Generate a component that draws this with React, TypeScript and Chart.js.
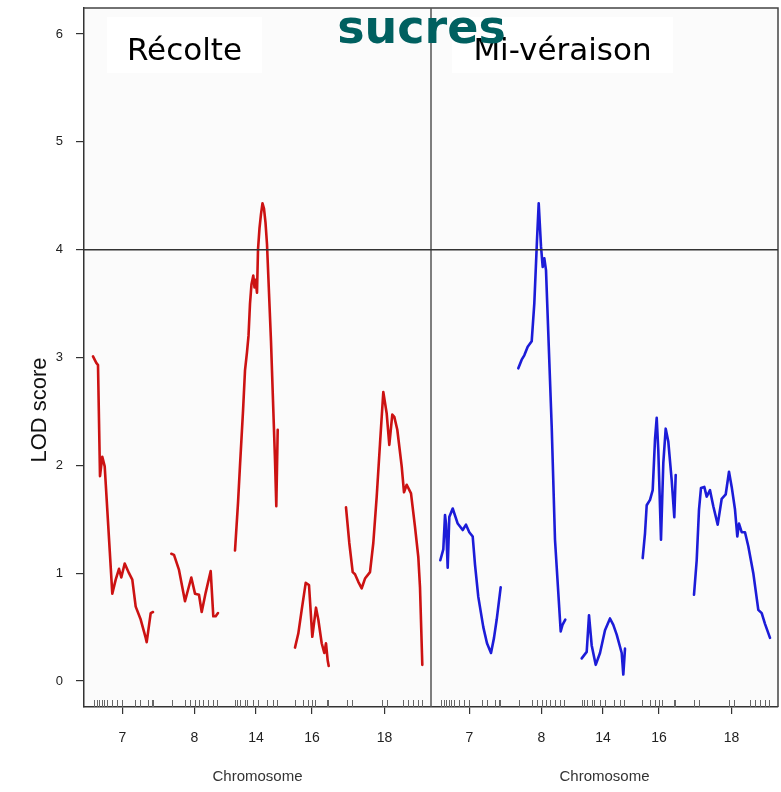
import React, { useEffect, useRef } from "react";
import { Chart, registerables } from "chart.js";

Chart.register(...registerables);

// ---------- data ----------
const TITLE = "sucres";
const PANEL_LABELS = ["Récolte", "Mi-véraison"];
const CHROMOSOMES = ["7", "8", "14", "16", "18"];
const CHROM_START = [8, 87, 150, 211, 261];
const CHROM_LEN = [61, 47, 44, 34, 79];
const PANEL_WIDTH = 347;
const Y_TICKS = [0, 1, 2, 3, 4, 5, 6];
const THRESHOLD = 4;

// Récolte (harvest)
const REC_7_POS = [1, 4.3, 6, 8, 10.3, 12.7, 20.3, 23.7, 27, 29.3, 32.7, 37, 40.3, 43.7, 48.7, 53.7, 54.7, 58.7, 61];
const REC_7_LOD = [3.01, 2.95, 2.93, 1.9, 2.08, 1.99, 0.81, 0.94, 1.04, 0.96, 1.09, 1.0, 0.94, 0.69, 0.57, 0.4, 0.36, 0.63, 0.64];
const REC_8_POS = [0.3, 3, 8, 14, 20.3, 24, 28, 30.7, 34.7, 39.7, 42.3, 44.7, 47];
const REC_8_LOD = [1.18, 1.17, 1.03, 0.74, 0.96, 0.81, 0.8, 0.64, 0.82, 1.02, 0.6, 0.6, 0.63];
const REC_14_POS = [1, 4, 6, 9, 11, 13, 14.5, 16, 17.5, 19.3, 20.5, 21.5, 23, 24, 25.5, 27, 28.5, 30, 31.5, 33, 35, 37, 39, 41, 42.3, 43.7];
const REC_14_LOD = [1.21, 1.65, 2.0, 2.5, 2.88, 3.05, 3.2, 3.5, 3.68, 3.76, 3.65, 3.72, 3.6, 4.0, 4.2, 4.33, 4.43, 4.38, 4.25, 4.05, 3.6, 3.15, 2.6, 2.05, 1.62, 2.33];
const REC_16_POS = [0, 3.3, 6.7, 10.7, 14, 17.3, 21, 23.3, 26.7, 29.3, 31, 32.7, 33.7];
const REC_16_LOD = [0.31, 0.44, 0.66, 0.91, 0.89, 0.41, 0.68, 0.57, 0.35, 0.26, 0.35, 0.19, 0.14];
const REC_18_POS = [1, 4.3, 7.7, 10, 13.3, 16.7, 20, 25, 28.3, 31.7, 35, 38.3, 41.7, 44.3, 47.3, 49.3, 52.3, 56.7, 59, 61.7, 66, 70, 73.3, 75, 77.3];
const REC_18_LOD = [1.61, 1.28, 1.01, 0.99, 0.92, 0.86, 0.95, 1.01, 1.28, 1.71, 2.2, 2.68, 2.48, 2.19, 2.47, 2.45, 2.33, 1.99, 1.75, 1.82, 1.74, 1.43, 1.15, 0.87, 0.15];

// Mi-véraison
const MV_7_POS = [1.3, 4.3, 6, 7, 8.7, 10.3, 13.7, 18.7, 23.7, 27, 30.3, 33.7, 36, 39.3, 44.3, 48, 52, 55, 57.7, 61.7];
const MV_7_LOD = [1.12, 1.22, 1.54, 1.46, 1.05, 1.52, 1.6, 1.46, 1.4, 1.45, 1.38, 1.34, 1.08, 0.78, 0.5, 0.35, 0.26, 0.4, 0.57, 0.87];
const MV_8_POS = [0.3, 3.7, 6.3, 9.7, 13.7, 16.3, 19, 20.7, 23, 24.7, 26.3, 28, 30, 33.7, 37, 42.7, 44.5, 47.3];
const MV_8_LOD = [2.9, 2.98, 3.02, 3.1, 3.15, 3.5, 4.09, 4.43, 4.03, 3.84, 3.92, 3.81, 3.3, 2.36, 1.31, 0.46, 0.52, 0.57];
const MV_14_POS = [0.7, 5.7, 8, 10.7, 14.7, 19, 24, 29, 32.3, 35.7, 40.7, 42.3, 44];
const MV_14_LOD = [0.21, 0.27, 0.61, 0.33, 0.15, 0.26, 0.47, 0.58, 0.52, 0.43, 0.26, 0.06, 0.3];
const MV_16_POS = [0.7, 3, 4.7, 8, 10.7, 13, 14.7, 16.3, 19, 21.3, 23.7, 26.3, 29.7, 32.3, 33.7];
const MV_16_LOD = [1.14, 1.37, 1.63, 1.68, 1.77, 2.24, 2.44, 2.14, 1.31, 2.02, 2.34, 2.22, 1.86, 1.52, 1.91];
const MV_18_POS = [2, 4.7, 7, 9, 12.3, 14.7, 18, 21.3, 25.7, 29.7, 33.7, 37, 39.7, 43, 45.3, 47, 49.7, 53, 56.3, 61.3, 66.3, 69.7, 73, 78];
const MV_18_LOD = [0.8, 1.12, 1.59, 1.79, 1.8, 1.71, 1.77, 1.62, 1.45, 1.69, 1.73, 1.94, 1.8, 1.59, 1.34, 1.46, 1.38, 1.38, 1.25, 1.0, 0.66, 0.63, 0.53, 0.4];

// marker positions (rug)
const MARKERS_7 = [2.3, 4.7, 7.3, 9.7, 12, 14.7, 19.7, 24.7, 29.7, 43, 48, 56.3, 59.7, 61.3];
const MARKERS_8 = [0.7, 14, 19, 24, 28.3, 32.3, 37.3, 42.3, 45.7];
const MARKERS_14 = [1, 3.3, 6, 11, 13.3, 19.3, 24.3, 32.7, 39.3, 42.7];
const MARKERS_16 = [0, 8.3, 13.3, 16.7, 20, 31.7, 33.3];
const MARKERS_18 = [1.7, 6.7, 36.7, 41.7, 58.3, 63.3, 68.3, 73.3, 76.7];

const REC_SERIES: [number[], number[]][] = [
  [REC_7_POS, REC_7_LOD],
  [REC_8_POS, REC_8_LOD],
  [REC_14_POS, REC_14_LOD],
  [REC_16_POS, REC_16_LOD],
  [REC_18_POS, REC_18_LOD],
];
const MV_SERIES: [number[], number[]][] = [
  [MV_7_POS, MV_7_LOD],
  [MV_8_POS, MV_8_LOD],
  [MV_14_POS, MV_14_LOD],
  [MV_16_POS, MV_16_LOD],
  [MV_18_POS, MV_18_LOD],
];
const MARKERS = [MARKERS_7, MARKERS_8, MARKERS_14, MARKERS_16, MARKERS_18];

function panelPoints(panel: number, series: [number[], number[]][]) {
  const pts: { x: number; y: number | null }[] = [];
  series.forEach(([pos, lod], c) => {
    pos.forEach((p, i) => pts.push({ x: panel * PANEL_WIDTH + CHROM_START[c] + p, y: lod[i] }));
    pts.push({ x: panel * PANEL_WIDTH + CHROM_START[c] + CHROM_LEN[c] + 2, y: null });
  });
  return pts;
}

const CENTERS: number[] = [];
for (let p = 0; p < 2; p++) {
  for (let c = 0; c < CHROMOSOMES.length; c++) {
    CENTERS.push(p * PANEL_WIDTH + CHROM_START[c] + CHROM_LEN[c] / 2);
  }
}

const AXIS_FONT = "'Liberation Sans', Arial, sans-serif";
const LABEL_FONT = "'DejaVu Sans', Verdana, sans-serif";

const decorPlugin = {
  id: "decor",
  beforeDraw(chart: any) {
    const { ctx, chartArea: a } = chart;
    const xs = chart.scales.x;
    ctx.save();
    ctx.fillStyle = "#ffffff";
    ctx.fillRect(0, 0, chart.width, chart.height);
    ctx.fillStyle = "#fbfbfb";
    ctx.fillRect(a.left, a.top, a.right - a.left, a.bottom - a.top);
    // white label boxes
    ctx.fillStyle = "#ffffff";
    const boxes = [
      [23, 178],
      [21, 242],
    ];
    boxes.forEach(([l, r], p) => {
      const px = xs.getPixelForValue(p * PANEL_WIDTH);
      ctx.fillRect(px + l, a.top + 9, r - l, 56);
    });
    ctx.restore();
  },
  afterDraw(chart: any) {
    const { ctx, chartArea: a } = chart;
    const xs = chart.scales.x;
    const ys = chart.scales.y;
    ctx.save();
    // frame
    ctx.strokeStyle = "#444";
    ctx.lineWidth = 1.5;
    ctx.beginPath();
    ctx.moveTo(a.left, a.top);
    ctx.lineTo(a.right, a.top);
    ctx.lineTo(a.right, a.bottom);
    ctx.stroke();
    // divider between panels
    const dx = xs.getPixelForValue(PANEL_WIDTH);
    ctx.strokeStyle = "#555";
    ctx.beginPath();
    ctx.moveTo(dx, a.top);
    ctx.lineTo(dx, a.bottom);
    ctx.stroke();
    // threshold
    const ty = ys.getPixelForValue(THRESHOLD);
    ctx.strokeStyle = "#333";
    ctx.lineWidth = 1.5;
    ctx.beginPath();
    ctx.moveTo(a.left, ty);
    ctx.lineTo(a.right, ty);
    ctx.stroke();
    // rug of markers
    ctx.strokeStyle = "#666";
    ctx.lineWidth = 1;
    for (let p = 0; p < 2; p++) {
      MARKERS.forEach((ms, c) => {
        ms.forEach((m) => {
          const x = Math.round(xs.getPixelForValue(p * PANEL_WIDTH + CHROM_START[c] + m)) + 0.5;
          ctx.beginPath();
          ctx.moveTo(x, a.bottom - 7);
          ctx.lineTo(x, a.bottom);
          ctx.stroke();
        });
      });
    }
    // x titles
    ctx.fillStyle = "#333";
    ctx.font = `15px ${AXIS_FONT}`;
    ctx.textAlign = "center";
    ctx.textBaseline = "middle";
    for (let p = 0; p < 2; p++) {
      const cx = (xs.getPixelForValue(p * PANEL_WIDTH) + xs.getPixelForValue((p + 1) * PANEL_WIDTH)) / 2;
      ctx.fillText("Chromosome", cx, 777);
    }
    // y title
    ctx.save();
    ctx.translate(40, 410);
    ctx.rotate(-Math.PI / 2);
    ctx.font = `22px ${AXIS_FONT}`;
    ctx.fillStyle = "#111";
    ctx.fillText("LOD score", 0, 0);
    ctx.restore();
    // panel labels
    ctx.fillStyle = "#000";
    ctx.font = `31px ${LABEL_FONT}`;
    ctx.textBaseline = "alphabetic";
    const centers = [100.5, 131.5];
    PANEL_LABELS.forEach((lab, p) => {
      const px = xs.getPixelForValue(p * PANEL_WIDTH);
      ctx.fillText(lab, px + centers[p], 60);
    });
    // main title
    ctx.fillStyle = "#006060";
    ctx.font = `bold 46px ${LABEL_FONT}`;
    ctx.fillText(TITLE, 421.5, 43);
    ctx.restore();
  },
};

export default function App() {
  const ref = useRef<HTMLCanvasElement | null>(null);
  useEffect(() => {
    if (!ref.current) return;
    const chart = new Chart(ref.current, {
      type: "line",
      data: {
        datasets: [
          {
            label: PANEL_LABELS[0],
            data: panelPoints(0, REC_SERIES) as any,
            borderColor: "#cc1212",
            borderWidth: 2.6,
            pointRadius: 0,
            tension: 0,
            borderJoinStyle: "round",
            borderCapStyle: "round",
            spanGaps: false,
          },
          {
            label: PANEL_LABELS[1],
            data: panelPoints(1, MV_SERIES) as any,
            borderColor: "#1c1cd8",
            borderWidth: 2.6,
            pointRadius: 0,
            tension: 0,
            borderJoinStyle: "round",
            borderCapStyle: "round",
            spanGaps: false,
          },
        ],
      },
      options: {
        animation: false,
        responsive: false,
        devicePixelRatio: 1,
        layout: { padding: { left: 0, right: 3, top: 8, bottom: 0 } },
        plugins: { legend: { display: false }, tooltip: { enabled: false }, title: { display: false } },
        scales: {
          x: {
            type: "linear",
            min: 0,
            max: 2 * PANEL_WIDTH,
            border: { display: true, color: "#333", width: 1.5 },
            grid: { drawOnChartArea: false, drawTicks: true, tickLength: 7, color: "#333", lineWidth: 1.2 },
            ticks: {
              padding: 16,
              color: "#222",
              font: { family: AXIS_FONT, size: 14 },
              maxRotation: 0,
              autoSkip: false,
              callback: (_v: any, i: number) => CHROMOSOMES[i % CHROMOSOMES.length],
            },
            afterBuildTicks: (s: any) => {
              s.ticks = CENTERS.map((v) => ({ value: v }));
            },
            afterFit: (s: any) => {
              s.height = 85;
              s.paddingLeft = 0;
              s.paddingRight = 0;
            },
          },
          y: {
            type: "linear",
            min: -0.241,
            max: 6.241,
            border: { display: true, color: "#333", width: 1.5 },
            grid: { drawOnChartArea: false, drawTicks: true, tickLength: 8, color: "#333", lineWidth: 1.2 },
            ticks: {
              padding: 13,
              color: "#222",
              font: { family: AXIS_FONT, size: 13 },
            },
            afterBuildTicks: (s: any) => {
              s.ticks = Y_TICKS.map((v) => ({ value: v }));
            },
            afterFit: (s: any) => {
              s.width = 84;
              s.paddingTop = 0;
              s.paddingBottom = 0;
            },
          },
        },
      },
      plugins: [decorPlugin],
    });
    return () => chart.destroy();
  }, []);
  return (
    <div style={{ position: "absolute", left: 0, top: 0, width: 781, height: 792 }}>
      <canvas ref={ref} width={781} height={792} style={{ display: "block" }} />
    </div>
  );
}
